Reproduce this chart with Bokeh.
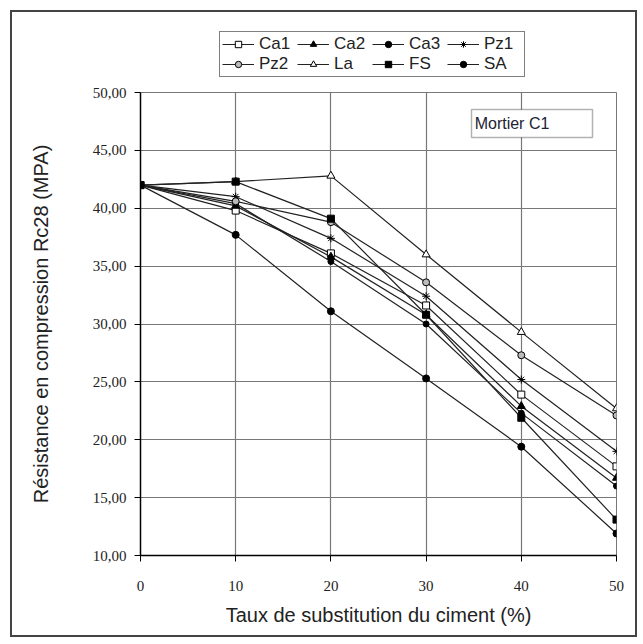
from bokeh.plotting import figure
from bokeh.layouts import column
from bokeh.models import (Legend, LegendItem, FixedTicker, CustomJSTickFormatter,
                          Label, BoxAnnotation, Range1d)
from bokeh.embed import file_html
from bokeh.resources import INLINE

x = [0, 10, 20, 30, 40, 50]
ca1 = [42.0, 39.8, 36.1, 31.6, 23.9, 17.7]
ca2 = [42.0, 40.2, 35.8, 30.8, 22.9, 16.7]
ca3 = [42.0, 40.4, 35.4, 30.0, 22.3, 16.0]
pz1 = [42.0, 41.0, 37.4, 32.4, 25.2, 19.0]
pz2 = [42.0, 40.6, 38.8, 33.6, 27.3, 22.1]
la = [42.0, 42.3, 42.8, 36.0, 29.3, 22.7]
fs = [42.0, 42.3, 39.1, 30.8, 21.9, 13.1]
sa = [42.0, 37.7, 31.1, 25.3, 19.4, 11.9]

names = ["Ca1", "Ca2", "Ca3", "Pz1", "Pz2", "La", "FS", "SA"]
series = [ca1, ca2, ca3, pz1, pz2, la, fs, sa]
y_ticks = [10, 15, 20, 25, 30, 35, 40, 45, 50]
x_ticks = [0, 10, 20, 30, 40, 50]

styles = {
    "Ca1": dict(marker="square", size=7, fill_color="white"),
    "Ca2": dict(marker="triangle", size=8, fill_color="black"),
    "Ca3": dict(marker="circle", size=6, fill_color="black"),
    "Pz1": dict(marker="asterisk", size=8, fill_color="black"),
    "Pz2": dict(marker="circle", size=7, fill_color="#bbbbbb"),
    "La": dict(marker="triangle", size=8, fill_color="white"),
    "FS": dict(marker="square", size=7, fill_color="black"),
    "SA": dict(marker="circle", size=7, fill_color="black"),
}

C = "#444444"
top_css = {"box-shadow": f"-2px 0 0 0 {C}, 2px 0 0 0 {C}, 0 -2px 0 0 {C}, "
                         f"-2px -2px 0 0 {C}, 2px -2px 0 0 {C}"}
bottom_css = {"box-shadow": f"-2px 0 0 0 {C}, 2px 0 0 0 {C}, 0 2px 0 0 {C}, "
                            f"-2px 2px 0 0 {C}, 2px 2px 0 0 {C}"}

# ---- legend strip (top) ----
pl = figure(width=623, height=70, x_range=Range1d(0, 1), y_range=Range1d(0, 1),
            output_backend="svg", toolbar_location=None,
            x_axis_type=None, y_axis_type=None, min_border=0)
pl.grid.visible = False
pl.outline_line_color = None
pl.background_fill_color = "white"
pl.border_fill_color = "white"
pl.styles = top_css

# ---- main chart ----
p = figure(width=623, height=553, x_range=Range1d(0, 50), y_range=Range1d(10, 50),
           output_backend="svg", toolbar_location=None,
           min_border_left=128, min_border_right=19, min_border_top=10, min_border_bottom=80)
p.outline_line_color = "#777777"
p.background_fill_color = "white"
p.border_fill_color = "white"
p.styles = bottom_css

p.xgrid.grid_line_color = "#777777"
p.ygrid.grid_line_color = "#777777"
p.xgrid.grid_line_width = 1.2
p.ygrid.grid_line_width = 1.2

p.xaxis.ticker = FixedTicker(ticks=x_ticks)
p.yaxis.ticker = FixedTicker(ticks=y_ticks)
p.yaxis.formatter = CustomJSTickFormatter(code="return tick.toFixed(2).replace('.', ',');")
for ax in (p.xaxis, p.yaxis):
    ax.axis_line_color = "black"
    ax.axis_line_width = 1.5
    ax.major_tick_line_color = "black"
    ax.major_tick_out = 6
    ax.major_tick_in = 0
    ax.minor_tick_line_color = None
    ax.major_label_text_font = "Liberation Serif"
    ax.major_label_text_font_size = "15px"
    ax.major_label_text_color = "#222222"
    ax.axis_label_text_font = "Liberation Sans"
    ax.axis_label_text_font_size = "20px"
    ax.axis_label_text_font_style = "normal"
    ax.axis_label_text_color = "#222222"
p.xaxis.major_label_standoff = 19
p.yaxis.major_label_standoff = 8
p.xaxis.axis_label = "Taux de substitution du ciment (%)"
p.yaxis.axis_label = "Résistance en compression Rc28 (MPA)"
p.xaxis.axis_label_standoff = 10
p.yaxis.axis_label_standoff = 38

items = []
for name, ys in zip(names, series):
    st = styles[name]
    p.line(x, ys, line_color="#222222", line_width=1.2)
    p.scatter(x, ys, marker=st["marker"], size=st["size"], fill_color=st["fill_color"],
              line_color="black", line_width=1)
    # legend proxies in the legend strip (same data, falls outside the strip's view)
    ln = pl.line(x, ys, line_color="#222222", line_width=1.2)
    sc = pl.scatter(x, ys, marker=st["marker"], size=st["size"], fill_color=st["fill_color"],
                    line_color="black", line_width=1)
    items.append(LegendItem(label=name, renderers=[ln, sc]))

legend = Legend(items=items, orientation="horizontal", ncols=4, location=(79, 5))
legend.border_line_color = "black"
legend.border_line_width = 1.5
legend.label_text_font = "Liberation Sans"
legend.label_text_font_size = "17px"
legend.label_text_color = "#222222"
legend.glyph_width = 32
legend.glyph_height = 16
legend.label_height = 16
legend.label_width = 38
legend.label_standoff = 5
legend.spacing = 0
legend.padding = 2
legend.margin = 0
legend.background_fill_alpha = 1
pl.add_layout(legend)

box = BoxAnnotation(left=34.77, right=47.48, bottom=46.11, top=48.53,
                    fill_color="white", fill_alpha=1, line_color="black", line_width=1.5)
p.add_layout(box)
p.add_layout(Label(x=35.1, y=47.32, text="Mortier C1", text_baseline="middle",
                   text_font="Liberation Sans", text_font_size="16px", text_color="#222233"))

lay = column(pl, p, spacing=0)
lay.styles = {"margin-left": "12px", "margin-top": "12px"}

open("out.html", "w").write(file_html(lay, INLINE))
